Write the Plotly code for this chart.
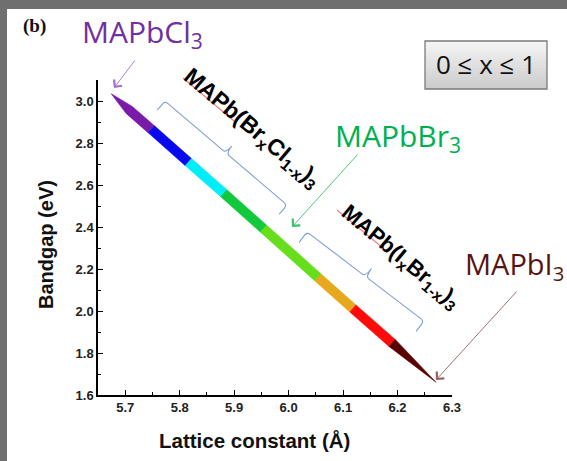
import math
import plotly.graph_objects as go

# ---------------- data ----------------
lattice_const = [5.674, 5.748, 5.816, 5.881, 5.954, 6.054, 6.118, 6.190, 6.271]   # segment boundaries (Å)
bandgap_ev    = [3.033, 2.865, 2.709, 2.561, 2.392, 2.160, 2.012, 1.848, 1.662]   # bandgap at boundaries (eV)
segment_colors = ["#7A1AA8", "#0808EE", "#00EEF8", "#12C83C", "#66DE1C", "#E6A81C", "#FF0A0A", "#5A0000"]
x_tick_vals = [5.7, 5.8, 5.9, 6.0, 6.1, 6.2, 6.3]
y_tick_vals = [1.6, 1.8, 2.0, 2.2, 2.4, 2.6, 2.8, 3.0]
x_range = [5.65, 6.30]
y_range = [1.6, 3.1]

# ---------------- geometry helpers ----------------
W, H = 567, 461
ML, MR, MT, MB = 98, 115, 80, 66
PW, PH = W - ML - MR, H - MT - MB


def d2p(x, y):
    return (ML + (x - x_range[0]) / (x_range[1] - x_range[0]) * PW,
            MT + (y_range[1] - y) / (y_range[1] - y_range[0]) * PH)


def p2d(px, py):
    return (x_range[0] + (px - ML) / PW * (x_range[1] - x_range[0]),
            y_range[1] - (py - MT) / PH * (y_range[1] - y_range[0]))


def pp(px, py):
    """pixel -> paper coordinates"""
    return ((px - ML) / PW, (H - MB - py) / PH)


fig = go.Figure()

# ---------------- coloured band (tapered ends) ----------------
HW = 4.7
nseg = len(segment_colors)
for i in range(nseg):
    P = d2p(lattice_const[i], bandgap_ev[i])
    Q = d2p(lattice_const[i + 1], bandgap_ev[i + 1])
    dx, dy = Q[0] - P[0], Q[1] - P[1]
    ln = math.hypot(dx, dy)
    ux, uy = dx / ln, dy / ln
    nx, ny = uy, -ux
    if i == 0:
        prof = [(0.0, 0.3), (0.45, HW), (1.0, HW)]
    elif i == nseg - 1:
        prof = [(0.0, HW), (1.0, 0.3)]
    else:
        prof = [(0.0, HW), (1.0, HW)]
    top = [(P[0] + ux * t * ln + nx * w, P[1] + uy * t * ln + ny * w) for t, w in prof]
    bot = [(P[0] + ux * t * ln - nx * w, P[1] + uy * t * ln - ny * w) for t, w in prof][::-1]
    poly = top + bot + [top[0]]
    xs, ys = zip(*[p2d(a, b) for a, b in poly])
    fig.add_trace(go.Scatter(x=list(xs), y=list(ys), mode="lines", fill="toself",
                             fillcolor=segment_colors[i],
                             line=dict(color=segment_colors[i], width=0.6),
                             hoverinfo="skip", showlegend=False))

shapes = []

# ---------------- grey frame of the picture ----------------
g = "#6f6f6f"
x0p, _ = pp(0, 0)
x7p, _ = pp(7, 0)
_, ytop = pp(0, 0)
_, y9 = pp(0, 9)
_, ybot = pp(0, H)
x_end, _ = pp(W, 0)
shapes.append(dict(type="rect", xref="paper", yref="paper", x0=x0p, x1=x7p, y0=ybot, y1=ytop,
                   fillcolor=g, line=dict(width=0), layer="above"))
shapes.append(dict(type="rect", xref="paper", yref="paper", x0=x0p, x1=x_end, y0=y9, y1=ytop,
                   fillcolor=g, line=dict(width=0), layer="above"))


# ---------------- curly braces ----------------
def brace(c0, c1, h, c, r, color="#7F9FD0"):
    dx, dy = c1[0] - c0[0], c1[1] - c0[1]
    Ln = math.hypot(dx, dy)
    ux, uy = dx / Ln, dy / Ln
    nx, ny = uy, -ux

    def P(u, v):
        X, Y = c0[0] + ux * u + nx * v, c0[1] + uy * u + ny * v
        a, b = pp(X, Y)
        return f"{a:.4f},{b:.4f}"

    m = Ln / 2
    path = (f"M{P(0, -h)} L{P(0, -r)} Q{P(0, 0)} {P(r, 0)} L{P(m - r, 0)} "
            f"Q{P(m, 0)} {P(m, c)} Q{P(m, 0)} {P(m + r, 0)} L{P(Ln - r, 0)} "
            f"Q{P(Ln, 0)} {P(Ln, -r)} L{P(Ln, -h)}")
    return dict(type="path", xref="paper", yref="paper", path=path,
                line=dict(color=color, width=1.1), layer="above")


shapes.append(brace((165, 101), (287, 205), 12, 9, 4))
shapes.append(brace((307, 232), (424, 321), 13, 10, 4))

# red "spell-check" underlines
for a, b in [((183, 78), (234, 121)), ((337, 210), (383, 248))]:
    p0, p1 = pp(*a), pp(*b)
    shapes.append(dict(type="line", xref="paper", yref="paper", x0=p0[0], y0=p0[1], x1=p1[0], y1=p1[1],
                       line=dict(color="#F08080", width=1.2), layer="above"))

# ---------------- "0 ≤ x ≤ 1" box with gradient ----------------
bx0, by0, bx1, by1 = 425, 41, 547, 89
nstr = 16
for k in range(nstr):
    t = k / (nstr - 1)
    v = int(round(244 - t * (244 - 204)))
    ya, yb = by0 + (by1 - by0) * k / nstr, by0 + (by1 - by0) * (k + 1) / nstr
    pa, pb = pp(bx0, ya), pp(bx1, yb)
    shapes.append(dict(type="rect", xref="paper", yref="paper", x0=pa[0], x1=pb[0], y0=pb[1], y1=pa[1],
                       fillcolor=f"rgb({v},{v},{v})", line=dict(width=0), layer="above"))
pa, pb = pp(bx0, by0), pp(bx1, by1)
shapes.append(dict(type="rect", xref="paper", yref="paper", x0=pa[0], x1=pb[0], y0=pb[1], y1=pa[1],
                   fillcolor="rgba(0,0,0,0)", line=dict(color="#7A7A7A", width=1.3), layer="above"))

# ---------------- annotations ----------------
ann = []


def text(px, py, s, size, color, family, xanchor="center", angle=0, weight="normal"):
    a, b = pp(px, py)
    ann.append(dict(x=a, y=b, xref="paper", yref="paper", text=s, showarrow=False,
                    xanchor=xanchor, yanchor="middle", textangle=angle,
                    font=dict(size=size, color=color, family=family, weight=weight)))


def arrow(tail, head, color):
    h = pp(*head)
    ann.append(dict(x=h[0], y=h[1], xref="paper", yref="paper", text="", showarrow=True,
                    ax=tail[0] - head[0], ay=tail[1] - head[1], arrowhead=4, arrowsize=2.2,
                    arrowwidth=0.9, arrowcolor=color, standoff=0, startstandoff=0))


text(34, 26, "<b>(b)</b>", 19, "#111111", "Liberation Serif")
text(142, 33, "MAPbCl<sub>3</sub>", 30, "#7030A0", "Open Sans", weight=500)
text(398, 137, "MAPbBr<sub>3</sub>", 30, "#00B050", "Open Sans", weight=500)
text(463, 265, "MAPbI<sub>3</sub>", 29, "#561414", "Open Sans", xanchor="left", weight=500)
text(486, 64, "0 ≤ x ≤ 1", 26, "#111111", "Open Sans", weight=500)
text(252, 128, "<b>MAPb(Br<sub>x</sub>Cl<sub>1-x</sub>)<sub>3</sub></b>", 23, "#000000", "Liberation Sans", angle=40)
text(400, 257, "<b>MAPb(I<sub>x</sub>Br<sub>1-x</sub>)<sub>3</sub></b>", 22, "#000000", "Liberation Sans", angle=40)
text(46, 245, "<b>Bandgap (eV)</b>", 20, "#111111", "Liberation Sans", angle=-90)
text(254, 440, "<b>Lattice constant (Å)</b>", 20.5, "#111111", "Liberation Sans")

arrow((136, 59), (114, 88), "#A070D0")
arrow((359, 153), (292, 227), "#40C070")
arrow((518, 290), (436, 380), "#9A6060")

axis_common = dict(showline=True, linecolor="black", linewidth=1.5, ticks="inside", ticklen=5,
                   tickwidth=1.3, tickcolor="black", showgrid=False, zeroline=False,
                   tickfont=dict(family="Liberation Sans", size=13, color="#222222", weight="bold"))

fig.update_layout(
    width=W, height=H, margin=dict(l=ML, r=MR, t=MT, b=MB),
    paper_bgcolor="white", plot_bgcolor="white", showlegend=False,
    shapes=shapes, annotations=ann,
    xaxis=dict(range=x_range, tickmode="array", tickvals=x_tick_vals, tickformat=".1f",
               minor=dict(tickmode="linear", tick0=x_range[0], dtick=0.05, ticks="inside",
                          ticklen=3, tickcolor="black", tickwidth=1.2),
               **axis_common),
    yaxis=dict(range=y_range, tickmode="array", tickvals=y_tick_vals, tickformat=".1f",
               minor=dict(tickmode="linear", tick0=y_range[0], dtick=0.1, ticks="inside",
                          ticklen=3, tickcolor="black", tickwidth=1.2),
               **axis_common),
)

fig.write_html("out.html", config={"displayModeBar": False},
               post_script="document.body.style.margin='0';")
